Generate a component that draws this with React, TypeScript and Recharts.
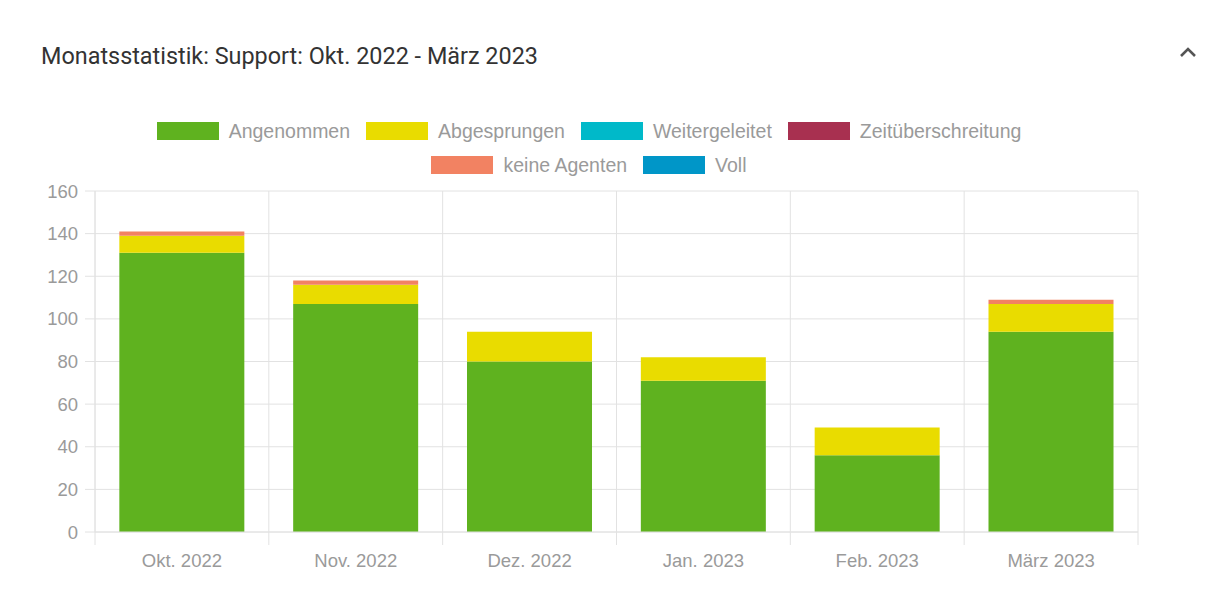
import React from "react";
import { BarChart, Bar, XAxis, YAxis, CartesianGrid, Legend } from "recharts";

const MONTHS = ["Okt. 2022", "Nov. 2022", "Dez. 2022", "Jan. 2023", "Feb. 2023", "März 2023"];
const ANGENOMMEN = [131, 107, 80, 71, 36, 94];
const ABGESPRUNGEN = [8, 9, 14, 11, 13, 13];
const WEITERGELEITET = [0, 0, 0, 0, 0, 0];
const ZEITUEBERSCHREITUNG = [0, 0, 0, 0, 0, 0];
const KEINE_AGENTEN = [2, 2, 0, 0, 0, 2];
const VOLL = [0, 0, 0, 0, 0, 0];
const Y_TICKS = [0, 20, 40, 60, 80, 100, 120, 140, 160];

const SERIES = [
  { key: "Angenommen", values: ANGENOMMEN, color: "#5fb21f" },
  { key: "Abgesprungen", values: ABGESPRUNGEN, color: "#e9dc00" },
  { key: "Weitergeleitet", values: WEITERGELEITET, color: "#00b9c9" },
  { key: "Zeitüberschreitung", values: ZEITUEBERSCHREITUNG, color: "#a83050" },
  { key: "keine Agenten", values: KEINE_AGENTEN, color: "#f28262" },
  { key: "Voll", values: VOLL, color: "#0096c8" },
];

const data = MONTHS.map((m, i) => {
  const row: Record<string, any> = { month: m };
  SERIES.forEach((s) => (row[s.key] = s.values[i]));
  return row;
});

const CHART_W = 1230;
const CHART_H = 602;
const MARGIN = { top: 111, left: 35, right: 92, bottom: 40 };
const Y_AXIS_W = 60;
const X_AXIS_H = 30;
const PLOT_W = CHART_W - MARGIN.left - MARGIN.right - Y_AXIS_W;
const GRID = "#e2e2e2";
const TICK_COLOR = "#9a9a9a";
const CHART_FONT = "'Liberation Sans', Arial, Helvetica, sans-serif";

const XTick = (props: any) => {
  const { x, y, payload, index } = props;
  const bw = PLOT_W / MONTHS.length;
  return (
    <g>
      <line x1={x - bw / 2} x2={x - bw / 2} y1={y} y2={y + 13} stroke={GRID} />
      {index === MONTHS.length - 1 && (
        <line x1={x + bw / 2} x2={x + bw / 2} y1={y} y2={y + 13} stroke={GRID} />
      )}
      <text x={x} y={y + 35} textAnchor="middle" fill={TICK_COLOR} fontSize={18.5} fontFamily={CHART_FONT}>
        {payload.value}
      </text>
    </g>
  );
};

const LegendItem = ({ entry }: any) => (
  <div style={{ display: "flex", alignItems: "center" }}>
    <div style={{ width: 62, height: 18, background: entry.color, marginRight: 10 }} />
    <span style={{ color: TICK_COLOR, fontSize: 19.5, fontFamily: CHART_FONT, lineHeight: "20px" }}>
      {entry.key}
    </span>
  </div>
);

const LegendContent = () => {
  const rows = [SERIES.slice(0, 4), SERIES.slice(4)];
  return (
    <div style={{ height: 80, width: 1178, position: "relative" }}>
      {rows.map((r, i) => (
        <div
          key={i}
          style={{
            position: "absolute",
            top: 10 + i * 34,
            left: 0,
            width: 1178,
            display: "flex",
            justifyContent: "center",
            gap: 16,
          }}
        >
          {r.map((e) => (
            <LegendItem key={e.key} entry={e} />
          ))}
        </div>
      ))}
    </div>
  );
};

export default function App() {
  return (
    <div
      style={{
        position: "relative",
        width: 1230,
        height: 602,
        margin: -8,
        background: "#eeeeee",
        overflow: "hidden",
      }}
    >
      <div
        style={{
          position: "absolute",
          left: 3,
          top: 6,
          width: 1226,
          height: 592,
          background: "#fff",
          borderRadius: 8,
          boxShadow: "0 1px 3px rgba(0,0,0,0.12)",
        }}
      />
      <div
        style={{
          position: "absolute",
          left: 41,
          top: 41,
          fontFamily: "Roboto, sans-serif",
          fontSize: 23.4,
          color: "#333",
          lineHeight: "30px",
          whiteSpace: "nowrap",
        }}
      >
        Monatsstatistik: Support: Okt. 2022 - März 2023
      </div>
      <svg style={{ position: "absolute", left: 1178, top: 45 }} width={20} height={14}>
        <polyline points="3,11 10,4 17,11" fill="none" stroke="#555" strokeWidth={2.6} />
      </svg>
      <div style={{ position: "absolute", left: 0, top: 0 }}>
        <BarChart width={CHART_W} height={CHART_H} data={data} margin={MARGIN} barCategoryGap="14%">
          <CartesianGrid
            stroke={GRID}
            verticalCoordinatesGenerator={({ offset }: any) =>
              Array.from({ length: MONTHS.length + 1 }, (_, i) => offset.left + (i * offset.width) / MONTHS.length)
            }
          />
          <XAxis
            dataKey="month"
            height={X_AXIS_H}
            tickSize={0}
            tickMargin={0}
            tickLine={false}
            axisLine={{ stroke: GRID }}
            tick={<XTick />}
            interval={0}
          />
          <YAxis
            width={Y_AXIS_W}
            domain={[0, 160]}
            ticks={Y_TICKS}
            tickSize={10}
            tickMargin={7}
            tickLine={{ stroke: GRID }}
            axisLine={{ stroke: GRID }}
            tick={{ fill: TICK_COLOR, fontSize: 18.5, fontFamily: CHART_FONT }}
          />
          <Legend
            verticalAlign="top"
            align="left"
            content={<LegendContent />}
            wrapperStyle={{ left: 0, top: MARGIN.top, width: 1178 }}
          />
          {SERIES.map((s) => (
            <Bar key={s.key} dataKey={s.key} stackId="a" fill={s.color} isAnimationActive={false} />
          ))}
        </BarChart>
      </div>
    </div>
  );
}
